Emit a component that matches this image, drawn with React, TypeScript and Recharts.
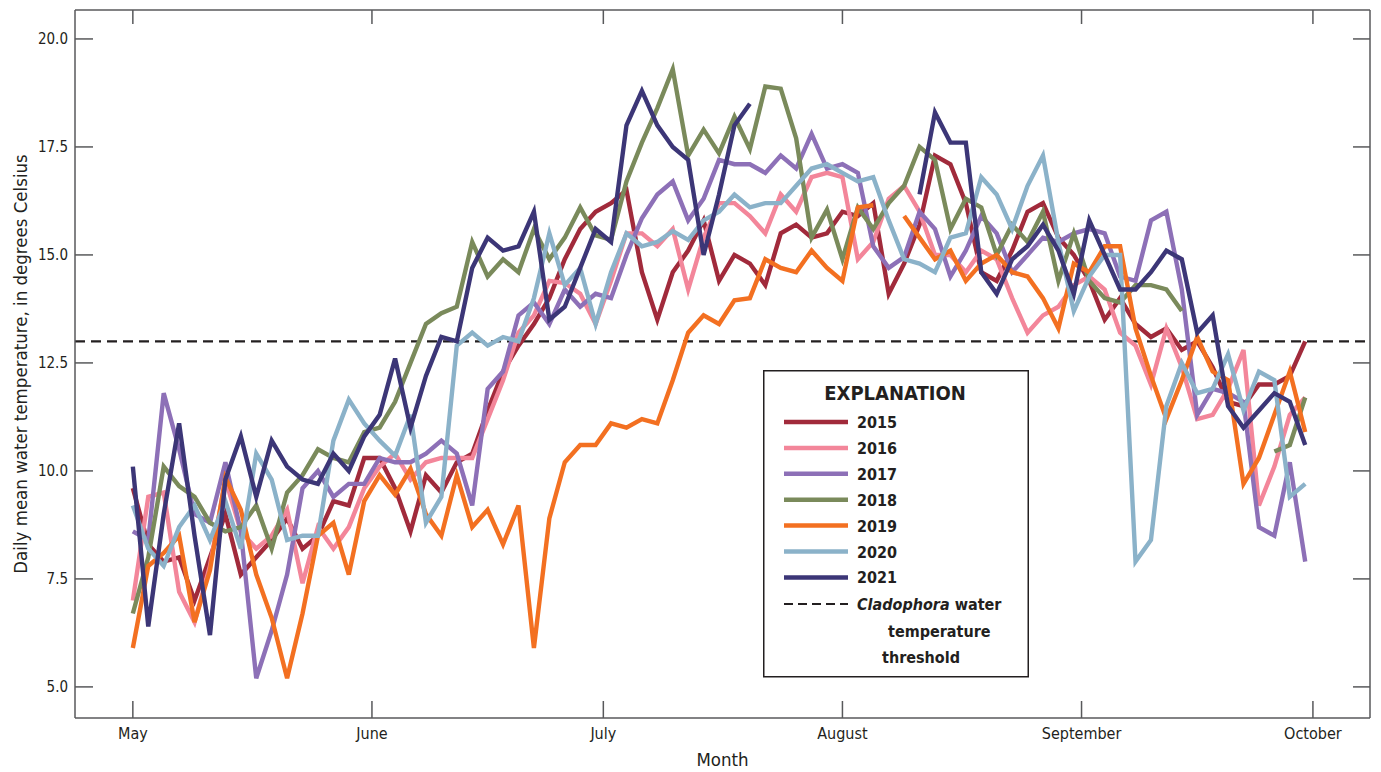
import React from 'react';
import {
  LineChart,
  Line,
  XAxis,
  YAxis,
  ReferenceLine,
  Legend,
} from 'recharts';

// day of season (0 = May 1), every second day
const DAYS = [
  0, 2, 4, 6, 8, 10, 12, 14, 16, 18,
  20, 22, 24, 26, 28, 30, 32, 34, 36, 38,
  40, 42, 44, 46, 48, 50, 52, 54, 56, 58,
  60, 62, 64, 66, 68, 70, 72, 74, 76, 78,
  80, 82, 84, 86, 88, 90, 92, 94, 96, 98,
  100, 102, 104, 106, 108, 110, 112, 114, 116, 118,
  120, 122, 124, 126, 128, 130, 132, 134, 136, 138,
  140, 142, 144, 146, 148, 150, 152,
];

const S2015 = [
  9.6, 8.3, 7.9, 8.0, 7.0, 8.0, 9.0, 7.6, 8.0, 8.4,
  8.9, 8.2, 8.5, 9.3, 9.2, 10.3, 10.3, 9.6, 8.6, 9.9,
  9.5, 10.2, 10.4, 11.4, 12.3, 12.9, 13.4, 14.0, 14.9, 15.6,
  16.0, 16.2, 16.5, 14.6, 13.5, 14.6, 15.1, 15.8, 14.4, 15.0,
  14.8, 14.3, 15.5, 15.7, 15.4, 15.5, 16.0, 15.9, 16.2, 14.1,
  14.8, 15.7, 17.3, 17.1, 16.2, 14.6, 14.4, 15.1, 16.0, 16.2,
  15.4, 15.0, 14.4, 13.5, 14.0, 13.4, 13.1, 13.3, 12.8, 13.0,
  12.4, 11.6, 11.5, 12.0, 12.0, 12.2, 13.0,
];

const S2016 = [
  7.0, 9.4, 9.5, 7.2, 6.5, 7.8, 9.8, 8.6, 8.2, 8.5,
  9.1, 7.4, 8.7, 8.2, 8.7, 9.6, 10.1, 10.4, 9.8, 10.2,
  10.3, 10.3, 10.3, 11.2, 12.1, 13.2, 13.6, 14.4, 14.35, 14.1,
  13.4, 14.4, 15.5, 15.5, 15.2, 15.6, 14.2, 15.4, 16.2, 16.2,
  15.9, 15.5, 16.4, 16.0, 16.8, 16.9, 16.8, 14.9, 15.3, 16.3,
  16.6, 16.0, 15.0, 15.0, 14.6, 15.1, 14.9, 14.0, 13.2, 13.6,
  13.8, 14.3, 14.5, 14.2, 13.2, 12.9, 12.0, 13.3, 12.4, 11.2,
  11.3, 11.9, 12.8, 9.2, 10.1, 11.3, 11.7,
];

const S2017 = [
  8.6, 8.4, 11.8, 10.5, 9.0, 8.8, 10.2, 8.6, 5.2, 6.3,
  7.6, 9.6, 10.0, 9.4, 9.7, 9.7, 10.3, 10.2, 10.2, 10.4,
  10.7, 10.4, 9.2, 11.9, 12.3, 13.6, 13.9, 13.4, 14.2, 13.8,
  14.1, 14.0, 15.0, 15.85, 16.4, 16.7, 15.8, 16.3, 17.2, 17.1,
  17.1, 16.9, 17.3, 17.0, 17.8, 17.0, 17.1, 16.9, 15.2, 14.7,
  14.95, 16.0, 15.6, 14.5, 15.1, 15.9, 15.5, 14.6, 15.0, 15.4,
  15.3, 15.5, 15.6, 15.5, 14.5, 14.4, 15.8, 16.0, 14.2, 11.3,
  11.9, 11.8, 11.6, 8.7, 8.5, 10.2, 7.9,
];

const S2018 = [
  6.7, 8.0, 10.1, 9.65, 9.4, 8.8, 8.6, 8.7, 9.2, 8.2,
  9.5, 9.9, 10.5, 10.3, 10.2, 10.9, 11.0, 11.6, 12.5, 13.4,
  13.65, 13.8, 15.3, 14.5, 14.9, 14.6, 15.6, 14.9, 15.4, 16.1,
  15.45, 15.35, 16.7, 17.6, 18.4, 19.3, 17.3, 17.9, 17.35, 18.2,
  17.45, 18.9, 18.85, 17.7, 15.4, 16.05, 14.9, 16.1, 15.6, 16.2,
  16.6, 17.5, 17.2, 15.6, 16.3, 16.1, 15.0, 15.7, 15.3, 16.0,
  14.4, 15.5, 14.4, 14.0, 13.9, 14.3, 14.3, 14.2, 13.7, null,
  null, null, null, null, 10.45, 10.6, 11.7,
];

const S2019 = [
  5.9, 7.8, 8.1, 8.5, 6.5, 7.7, 9.85, 9.1, 7.6, 6.6,
  5.2, 6.7, 8.5, 8.8, 7.6, 9.3, 9.9, 9.45, 10.05, 9.0,
  8.5, 9.9, 8.7, 9.1, 8.3, 9.2, 5.9, 8.9, 10.2, 10.6,
  10.6, 11.1, 11.0, 11.2, 11.1, 12.1, 13.2, 13.6, 13.4, 13.95,
  14.0, 14.9, 14.7, 14.6, 15.1, 14.7, 14.4, 16.1, 16.15, null,
  15.9, 15.4, 14.9, 15.1, 14.4, 14.8, 15.0, 14.6, 14.5, 14.0,
  13.3, 14.8, 14.6, 15.2, 15.2, 13.3, 12.2, 11.2, 12.1, 13.1,
  12.3, 12.1, 9.7, 10.3, 11.3, 12.3, 10.9,
];

const S2020 = [
  9.2, 8.2, 7.8, 8.7, 9.2, 8.4, 9.3, 8.2, 10.4, 9.8,
  8.4, 8.5, 8.5, 10.7, 11.65, 11.1, 10.7, 10.35, 11.3, 8.8,
  9.4, 12.9, 13.2, 12.9, 13.1, 13.0, 14.0, 15.5, 14.3, 14.7,
  13.4, 14.6, 15.5, 15.2, 15.3, 15.55, 15.35, 15.8, 16.0, 16.4,
  16.1, 16.2, 16.2, 16.6, 17.0, 17.1, 16.9, 16.7, 16.8, 15.8,
  14.9, 14.8, 14.6, 15.4, 15.5, 16.8, 16.4, 15.6, 16.6, 17.3,
  15.3, 13.7, 14.5, 15.0, 15.0, 7.9, 8.4, 11.5, 12.5, 11.8,
  11.9, 12.7, 11.4, 12.3, 12.1, 9.4, 9.7,
];

const S2021 = [
  10.1, 6.4, 9.0, 11.1, 8.5, 6.2, 9.8, 10.8, 9.4, 10.7,
  10.1, 9.8, 9.7, 10.4, 10.0, 10.8, 11.3, 12.6, 11.0, 12.2,
  13.1, 13.0, 14.7, 15.4, 15.1, 15.2, 16.0, 13.5, 13.8, 14.7,
  15.6, 15.3, 18.0, 18.8, 18.0, 17.5, 17.2, 15.0, 16.4, 18.0,
  18.5, null, null, null, null, null, null, null, null, null,
  null, 16.4, 18.3, 17.6, 17.6, 14.6, 14.1, 14.9, 15.2, 15.7,
  15.1, 14.1, 15.8, 15.0, 14.2, 14.2, 14.6, 15.1, 14.9, 13.2,
  13.6, 11.5, 11.0, 11.4, 11.8, 11.6, 10.6,
];

const MONTH_DAYS = [0, 31, 61, 92, 123, 153];
const MONTH_LABELS = ['May', 'June', 'July', 'August', 'September', 'October'];
const TEMP_TICKS = [5, 7.5, 10, 12.5, 15, 17.5, 20];
const THRESHOLD = 13;

const SERIES = [
  { key: '2015', values: S2015, color: '#a12a3b' },
  { key: '2016', values: S2016, color: '#f3869a' },
  { key: '2017', values: S2017, color: '#8d70b7' },
  { key: '2018', values: S2018, color: '#7a8a5b' },
  { key: '2019', values: S2019, color: '#f37021' },
  { key: '2020', values: S2020, color: '#8bb2c9' },
  { key: '2021', values: S2021, color: '#3c3677' },
];

const chartData = DAYS.map((day, i) => {
  const row: any = { day };
  SERIES.forEach((s) => {
    row[s.key] = s.values[i];
  });
  return row;
});

const FONT = "'DejaVu Sans Condensed', 'Liberation Sans Narrow', Arial, sans-serif";
const INK = '#231f20';
const FRAME = '#58595b';

// plot box (follows from the margins and axis sizes below)
const PLOT_LEFT = 75;
const PLOT_RIGHT = 1370;
const PLOT_TOP = 10;
const PLOT_BOTTOM = 718;

const MonthTick = (props: any) => {
  const { x, payload } = props;
  const label = MONTH_LABELS[MONTH_DAYS.indexOf(payload.value)];
  return (
    <g>
      <line x1={x} x2={x} y1={PLOT_BOTTOM} y2={PLOT_BOTTOM - 17} stroke={FRAME} strokeWidth={1.5} />
      <text x={x} y={PLOT_BOTTOM + 21} textAnchor="middle" fontFamily={FONT} fontSize={16} fill={INK}>
        {label}
      </text>
    </g>
  );
};

const TopTick = (props: any) => {
  const { x } = props;
  return <line x1={x} x2={x} y1={PLOT_TOP} y2={PLOT_TOP + 14} stroke={FRAME} strokeWidth={1.5} />;
};

const TempTick = (props: any) => {
  const { y, payload } = props;
  return (
    <g>
      <line x1={PLOT_LEFT} x2={PLOT_LEFT + 18} y1={y} y2={y} stroke={FRAME} strokeWidth={1.5} />
      <text x={PLOT_LEFT - 7} y={y + 5} textAnchor="end" fontFamily={FONT} fontSize={15} fill={INK}>
        {Number(payload.value).toFixed(1)}
      </text>
    </g>
  );
};

const RightTick = (props: any) => {
  const { y } = props;
  return <line x1={PLOT_RIGHT - 17} x2={PLOT_RIGHT} y1={y} y2={y} stroke={FRAME} strokeWidth={1.5} />;
};

const YTitle = () => {
  const cy = (PLOT_TOP + PLOT_BOTTOM) / 2;
  return (
    <text
      x={20}
      y={cy}
      transform={`rotate(-90, 20, ${cy})`}
      textAnchor="middle"
      dominantBaseline="central"
      fontFamily={FONT}
      fontSize={18.5}
      fill={INK}
    >
      Daily mean water temperature, in degrees Celsius
    </text>
  );
};

const XTitle = () => (
  <text
    x={(PLOT_LEFT + PLOT_RIGHT) / 2}
    y={766}
    textAnchor="middle"
    fontFamily={FONT}
    fontSize={18.5}
    fill={INK}
  >
    Month
  </text>
);

const Explanation = () => {
  const rowY = (i: number) => 52 + i * 25.9;
  return (
    <svg width={266} height={308} style={{ display: 'block' }}>
      <rect x={0.75} y={0.75} width={264.5} height={306} fill="#fff" stroke={INK} strokeWidth={1.5} />
      <text x={132} y={30} textAnchor="middle" fontFamily={FONT} fontWeight="bold" fontSize={20} fill={INK}>
        EXPLANATION
      </text>
      {SERIES.map((s, i) => (
        <g key={s.key}>
          <line x1={21} x2={85} y1={rowY(i)} y2={rowY(i)} stroke={s.color} strokeWidth={4.5} />
          <text x={94} y={rowY(i) + 6} fontFamily={FONT} fontWeight="bold" fontSize={16} fill={INK}>
            {s.key}
          </text>
        </g>
      ))}
      <line x1={21} x2={85} y1={234} y2={234} stroke={INK} strokeWidth={2.2} strokeDasharray="9 5" />
      <text x={94} y={240} fontFamily={FONT} fontWeight="bold" fontSize={16} fill={INK}>
        <tspan fontStyle="italic">Cladophora</tspan> water
      </text>
      <text x={125} y={267} fontFamily={FONT} fontWeight="bold" fontSize={16} fill={INK}>
        temperature
      </text>
      <text x={119} y={293} fontFamily={FONT} fontWeight="bold" fontSize={16} fill={INK}>
        threshold
      </text>
    </svg>
  );
};

const App: React.FC = () => {
  return (
    <div style={{ position: 'absolute', left: 0, top: 0, background: '#fff' }}>
      <LineChart
        width={1381}
        height={772}
        data={chartData}
        margin={{ top: 9, right: 10, bottom: 14, left: 15 }}
      >
        <XAxis
          xAxisId="bottom"
          type="number"
          dataKey="day"
          domain={[-7.5, 160.4]}
          ticks={MONTH_DAYS}
          interval={0}
          allowDataOverflow
          tick={<MonthTick />}
          tickLine={false}
          axisLine={{ stroke: FRAME, strokeWidth: 1.5 }}
          height={40}
          label={<XTitle />}
        />
        <XAxis
          xAxisId="top"
          orientation="top"
          type="number"
          dataKey="day"
          domain={[-7.5, 160.4]}
          ticks={MONTH_DAYS}
          interval={0}
          allowDataOverflow
          tick={<TopTick />}
          tickLine={false}
          axisLine={{ stroke: FRAME, strokeWidth: 1.5 }}
          height={1}
        />
        <YAxis
          yAxisId="left"
          type="number"
          domain={[4.28, 20.67]}
          ticks={TEMP_TICKS}
          interval={0}
          allowDataOverflow
          tick={<TempTick />}
          tickLine={false}
          axisLine={{ stroke: FRAME, strokeWidth: 1.5 }}
          width={60}
          label={<YTitle />}
        />
        <YAxis
          yAxisId="right"
          orientation="right"
          type="number"
          domain={[4.28, 20.67]}
          ticks={TEMP_TICKS}
          interval={0}
          allowDataOverflow
          tick={<RightTick />}
          tickLine={false}
          axisLine={{ stroke: FRAME, strokeWidth: 1.5 }}
          width={1}
        />
        <ReferenceLine
          xAxisId="bottom"
          yAxisId="left"
          y={THRESHOLD}
          stroke={INK}
          strokeWidth={2.2}
          strokeDasharray="10 6"
        />
        {SERIES.map((s) => (
          <Line
            key={s.key}
            xAxisId="bottom"
            yAxisId="left"
            type="linear"
            dataKey={s.key}
            stroke={s.color}
            strokeWidth={4.4}
            dot={false}
            activeDot={false}
            connectNulls={false}
            isAnimationActive={false}
          />
        ))}
        <Legend
          layout="vertical"
          align="center"
          verticalAlign="middle"
          content={<Explanation />}
          wrapperStyle={{ position: 'absolute', left: 763, top: 370, width: 266, height: 308 }}
        />
      </LineChart>
    </div>
  );
};

export default App;
